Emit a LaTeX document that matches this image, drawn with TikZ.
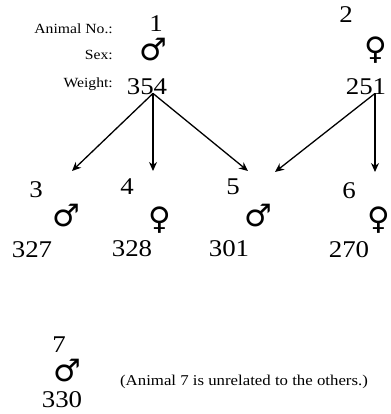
\documentclass[tikz,border=0pt]{standalone}
\usepackage{fontspec}
\setmainfont[FakeStretch=1.12]{Liberation Serif}
\newfontfamily\symfont{DejaVu Sans}
\usetikzlibrary{arrows.meta}

\begin{document}
\begin{tikzpicture}[x=1pt,y=-1pt,
  num/.style={font=\fontsize{24}{24}\selectfont, inner sep=0pt, anchor=base},
  lab/.style={font=\fontsize{14}{14}\selectfont, inner sep=0pt, anchor=base east},
  sexsym/.style={font=\symfont\bfseries\fontsize{31}{31}\selectfont, inner sep=0pt},
  kin/.style={line width=1.3pt, -{Stealth[length=9pt,width=8pt]}}]
\useasboundingbox (0,0) rectangle (390,414);
% row headings
\node [lab] (hno) at (113,34) {Animal No.:};
\node [lab] (hsex) at (113,60) {Sex:};
\node [lab] (hwt) at (113,88) {Weight:};
% parents
\node [num] (n1) at (156,32) {1};
\node [sexsym] (s1) at (153,50) {♂};
\node [num] (w1) at (147,95) {354};
\node [num] (n2) at (346,23) {2};
\node [sexsym] (s2) at (376,50) {♀};
\node [num] (w2) at (366,95) {251};
% offspring
\node [num] (n3) at (36,197) {3};
\node [sexsym] (s3) at (66,216) {♂};
\node [num] (w3) at (32,257) {327};
\node [num] (n4) at (127,194) {4};
\node [sexsym] (s4) at (160,220) {♀};
\node [num] (w4) at (132,256) {328};
\node [num] (n5) at (233,194) {5};
\node [sexsym] (s5) at (258,216) {♂};
\node [num] (w5) at (229,256) {301};
\node [num] (n6) at (349,198) {6};
\node [sexsym] (s6) at (379,220) {♀};
\node [num] (w6) at (349,257) {270};
% animal 7
\node [num] (n7) at (59,352) {7};
\node [sexsym] (s7) at (67,371) {♂};
\node [num] (w7) at (62,407) {330};
\node [font=\fontsize{15}{15}\selectfont, inner sep=0pt, anchor=base] (note) at (244,385) {(Animal 7 is unrelated to the others.)};
% arrow ends
\coordinate (t3) at (72,171);
\coordinate (t4) at (153,171);
\coordinate (t5) at (248,171);
\coordinate (u5) at (275,172);
\coordinate (t6) at (375,172);
\draw [kin] ([xshift=6pt,yshift=2pt]w1.south) -- (t3);
\draw [kin] ([xshift=6pt,yshift=2pt]w1.south) -- (t4);
\draw [kin] ([xshift=6pt,yshift=2pt]w1.south) -- (t5);
\draw [kin] ([xshift=9pt,yshift=2pt]w2.south) -- (u5);
\draw [kin] ([xshift=9pt,yshift=2pt]w2.south) -- (t6);
\end{tikzpicture}
\end{document}
